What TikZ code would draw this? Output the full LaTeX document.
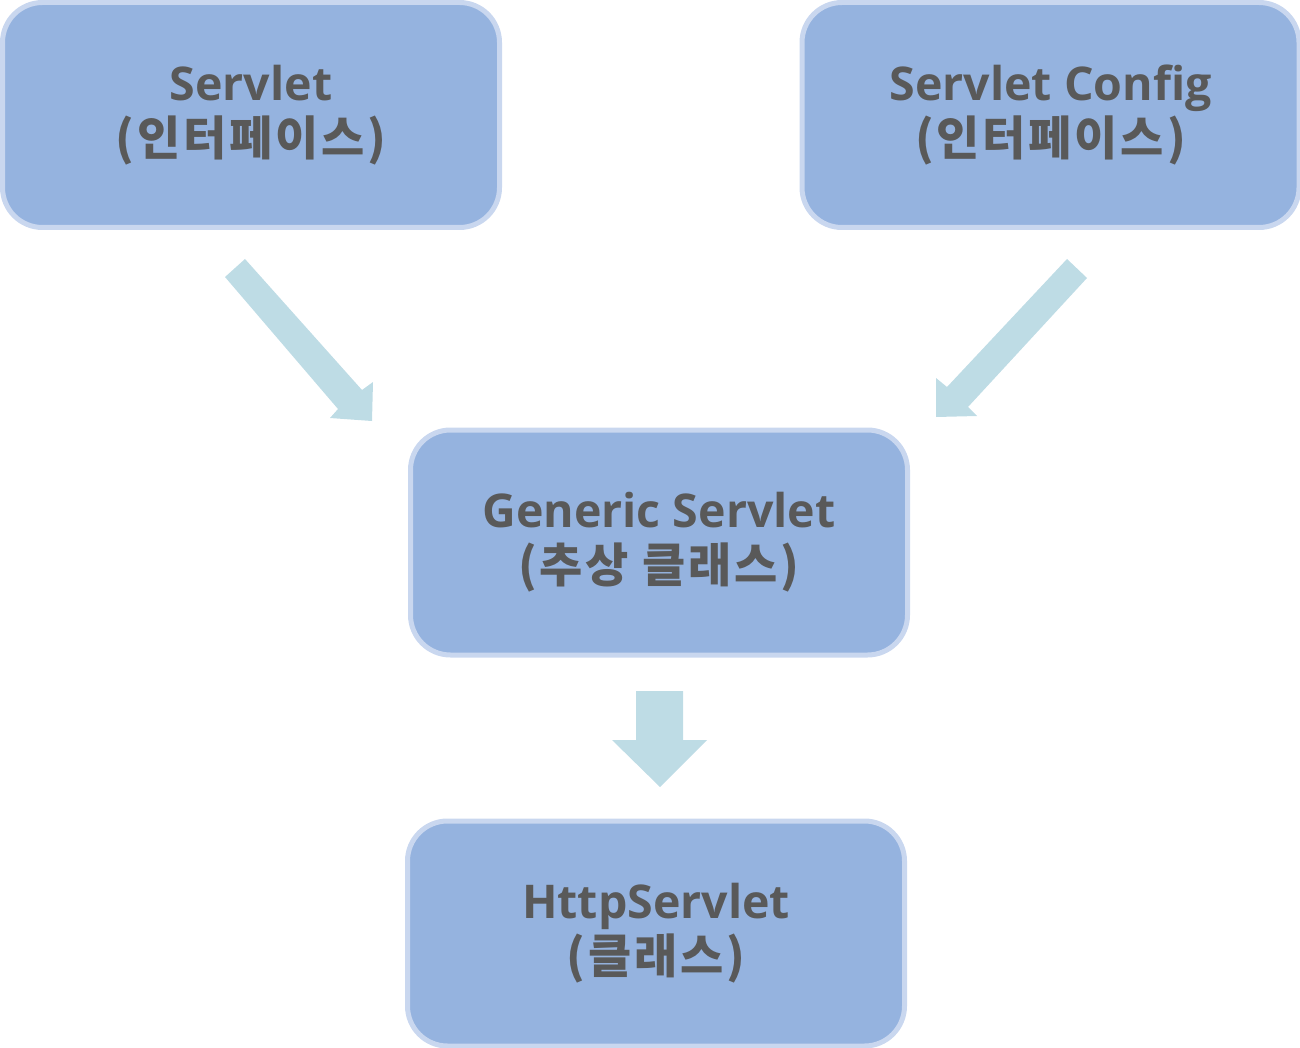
\documentclass[tikz,border=0pt]{standalone}
\usepackage{fontspec}
\newfontfamily\latinfont{Open Sans}
\newfontfamily\krfont{Noto Sans CJK KR}[LetterSpace=6]
\definecolor{boxfill}{HTML}{95B3DF}
\definecolor{boxborder}{HTML}{C9D7EF}
\definecolor{txtc}{HTML}{595959}
\definecolor{arrowc}{HTML}{BEDCE5}
\tikzset{
  cls/.style={draw=boxborder, fill=boxfill, line width=5pt, rounded corners=40pt,
    minimum width=497pt, minimum height=225pt, inner sep=0pt, align=center,
    text=txtc, font=\latinfont\bfseries\fontsize{46.5}{55}\selectfont},
  blockarrow/.style={fill=arrowc, draw=none}
}
\newcommand{\krline}[1]{{\krfont\bfseries\fontsize{47}{55}\selectfont #1}}
\begin{document}
\begin{tikzpicture}[x=1pt, y=-1pt]
  \useasboundingbox (0,0) rectangle (1300,1048);
  \node[cls] (servlet) at (251,115) {Servlet\\\krline{(인터페이스)}};
  \node[cls] (config) at (1050.5,115) {Servlet Config\\\krline{(인터페이스)}};
  \node[cls] (generic) at (659,542.5) {Generic Servlet\\\krline{(추상 클래스)}};
  \node[cls] (http) at (656,933.5) {HttpServlet\\\krline{(클래스)}};
  % block arrows
  \fill[blockarrow] (225,277) -- (245,259) -- (362,390) -- (373,382) -- (372,421) -- (330,418) -- (338,409) -- cycle;
  \fill[blockarrow] (1087,278) -- (1067,259) -- (947,387) -- (936,378) -- (936,417) -- (977,416) -- (968,407) -- cycle;
  \fill[blockarrow] (636,691) -- (683,691) -- (683,740) -- (707,740) -- (660,787) -- (612,740) -- (636,740) -- cycle;
\end{tikzpicture}
\end{document}
